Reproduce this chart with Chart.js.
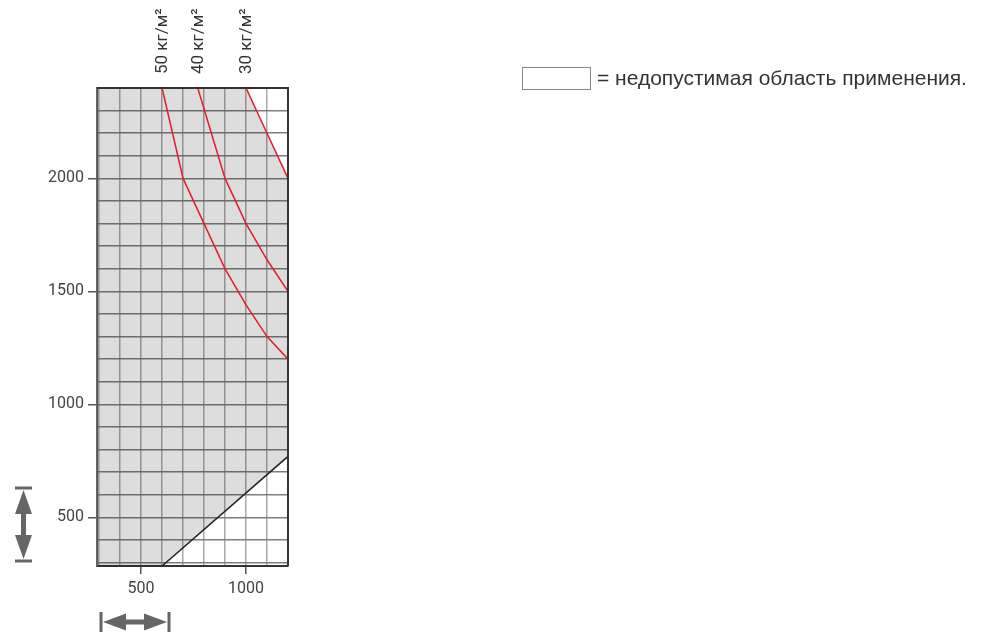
<!DOCTYPE html>
<html>
<head>
<meta charset="utf-8">
<script src="https://cdn.jsdelivr.net/npm/chart.js@4"></script>
<style>
  body { margin: 0; background: #fff; }
</style>
</head>
<body>
<canvas id="loadChart" width="1000" height="635"></canvas>
<script>
// axis range
const xMin = 290, xMax = 1200;
const yMin = 285, yMax = 2400;

// grid lines and labelled ticks
const xGrid = [300, 400, 500, 600, 700, 800, 900, 1000, 1100, 1200];
const yGrid = [300, 400, 500, 600, 700, 800, 900, 1000, 1100, 1200, 1300, 1400,
    1500, 1600, 1700, 1800, 1900, 2000, 2100, 2200, 2300, 2400];
const xLabels = [500, 1000];
const yLabels = [500, 1000, 1500, 2000];

// red curves (load per m2)
const curveLabels = ['50 кг/м²', '40 кг/м²', '30 кг/м²'];
const curve50X = [600, 700, 800, 900, 1000, 1100, 1200];
const curve50Y = [2400, 2000, 1800, 1600, 1440, 1300, 1200];
const curve40X = [770, 900, 1000, 1100, 1200];
const curve40Y = [2400, 2000, 1800, 1640, 1500];
const curve30X = [1000, 1100, 1200];
const curve30Y = [2400, 2200, 2000];

// black limit line
const limitX = [600, 1200];
const limitY = [285, 770];

const legendText = '= недопустимая область применения.';

const pts = (xs, ys) => xs.map((x, i) => ({ x: x, y: ys[i] }));

const redLine = (xs, ys) => ({
    data: pts(xs, ys),
    borderColor: '#e8192c',
    borderWidth: 1.5,
    pointRadius: 0,
    fill: false
});

const overlay = {
    id: 'overlay',
    afterDraw(chart) {
        const c = chart.ctx;
        const a = chart.chartArea;
        const xs = chart.scales.x;
        // frame top and right
        c.save();
        c.strokeStyle = '#333';
        c.lineWidth = 2;
        c.beginPath();
        c.moveTo(a.left, a.top);
        c.lineTo(a.right, a.top);
        c.lineTo(a.right, a.bottom);
        c.stroke();

        // rotated curve labels
        c.fillStyle = '#333';
        c.font = '17px Roboto';
        c.textAlign = 'left';
        c.textBaseline = 'middle';
        [curve50X[0], curve40X[0], curve30X[0]].forEach((v, i) => {
            c.save();
            c.translate(xs.getPixelForValue(v) + 1, a.top - 14);
            c.rotate(-Math.PI / 2);
            c.fillText(curveLabels[i], 0, 0);
            c.restore();
        });

        // legend
        c.fillStyle = '#fff';
        c.fillRect(522, 67, 69, 23);
        c.strokeStyle = '#888';
        c.lineWidth = 1;
        c.strokeRect(522.5, 67.5, 68, 22);
        c.fillStyle = '#333';
        c.font = '21px "Liberation Sans"';
        c.fillText(legendText, 597, 79);

        // double arrows
        c.fillStyle = '#666';
        c.strokeStyle = '#666';
        c.lineWidth = 3;
        // vertical
        const vx = 23.5;
        c.beginPath();
        c.moveTo(15, 488); c.lineTo(32, 488);
        c.moveTo(15, 561); c.lineTo(32, 561);
        c.stroke();
        c.fillRect(vx - 2.5, 505, 5, 44);
        c.beginPath();
        c.moveTo(vx, 490); c.lineTo(vx - 8.5, 514); c.lineTo(vx + 8.5, 514); c.closePath();
        c.moveTo(vx, 559); c.lineTo(vx - 8.5, 535); c.lineTo(vx + 8.5, 535); c.closePath();
        c.fill();
        // horizontal
        const hy = 622;
        c.beginPath();
        c.moveTo(101, 612); c.lineTo(101, 632);
        c.moveTo(169, 612); c.lineTo(169, 632);
        c.stroke();
        c.fillRect(118, hy - 2.5, 34, 5);
        c.beginPath();
        c.moveTo(103, hy); c.lineTo(126, hy - 8.5); c.lineTo(126, hy + 8.5); c.closePath();
        c.moveTo(167, hy); c.lineTo(144, hy - 8.5); c.lineTo(144, hy + 8.5); c.closePath();
        c.fill();
        c.restore();
    }
};

const labelled = (list) => (c) => (c.tick && list.includes(c.tick.value) ? '#555' : 'rgba(0,0,0,0)');

const ctx = document.getElementById('loadChart').getContext('2d');
const loadChart = new Chart(ctx, {
    type: 'line',
    data: {
        datasets: [
            redLine(curve50X, curve50Y),
            redLine(curve40X, curve40Y),
            redLine(curve30X, curve30Y),
            {
                data: pts(limitX, limitY),
                borderColor: '#222',
                borderWidth: 1.5,
                pointRadius: 0,
                fill: false
            },
            {
                // upper edge of the grey area
                data: pts([xMin].concat(curve30X), [yMax].concat(curve30Y)),
                borderWidth: 0,
                borderColor: 'rgba(0,0,0,0)',
                backgroundColor: 'rgba(0,0,0,0.135)',
                pointRadius: 0,
                fill: { target: 5 }
            },
            {
                // lower edge of the grey area
                data: pts([xMin].concat(limitX), [yMin].concat(limitY)),
                borderWidth: 0,
                borderColor: 'rgba(0,0,0,0)',
                pointRadius: 0,
                fill: false
            }
        ]
    },
    options: {
        responsive: false,
        animation: false,
        layout: {
            padding: { left: 0, top: 88, right: 712, bottom: 29 }
        },
        plugins: {
            legend: { display: false },
            tooltip: { enabled: false }
        },
        scales: {
            x: {
                type: 'linear',
                min: xMin,
                max: xMax,
                afterBuildTicks: (s) => { s.ticks = xGrid.map((v) => ({ value: v })); },
                afterFit: (s) => { s.height = 40; },
                border: { color: '#333', width: 2 },
                grid: {
                    color: '#a9a9a9',
                    lineWidth: 1.5,
                    tickLength: 8,
                    tickColor: labelled(xLabels)
                },
                ticks: {
                    padding: 5,
                    color: '#444',
                    font: { family: 'Roboto', size: 16 },
                    maxRotation: 0,
                    autoSkip: false,
                    callback: (v) => (xLabels.includes(v) ? String(v) : '')
                }
            },
            y: {
                min: yMin,
                max: yMax,
                afterBuildTicks: (s) => { s.ticks = yGrid.map((v) => ({ value: v })); },
                afterFit: (s) => { s.width = 97; },
                border: { color: '#666', width: 2 },
                grid: {
                    color: '#7d7d7d',
                    lineWidth: 1.5,
                    tickLength: 9,
                    tickColor: labelled(yLabels)
                },
                ticks: {
                    padding: 4,
                    color: '#444',
                    font: { family: 'Roboto', size: 16 },
                    autoSkip: false,
                    callback: (v) => (yLabels.includes(v) ? String(v) : '')
                }
            }
        }
    },
    plugins: [overlay]
});
</script>
</body>
</html>
